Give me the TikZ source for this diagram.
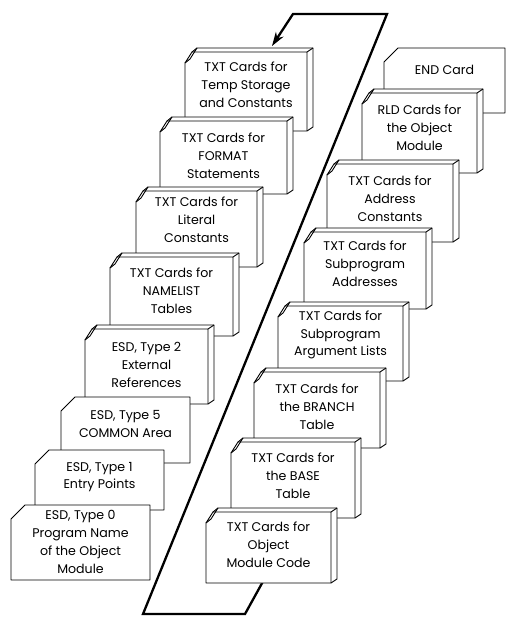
\documentclass[tikz,border=0pt]{standalone}
\usepackage{fontspec}
\setmainfont{Poppins}
\usetikzlibrary{arrows.meta}

\tikzset{
  cardline/.style={line width=0.9pt, line join=round},
  cardtext/.style={align=center, inner sep=0pt,
    font=\fontsize{12.6}{17.8}\selectfont},
  loopline/.style={line width=2.3pt, line join=miter,
    -{Stealth[length=14pt,width=9pt]}},
}

% A deck of cards: name, left x, back top y, front right x, front bottom y,
% text centre y, text
\newcommand{\deckcard}[7]{%
  \filldraw[cardline, fill=white]
    (#2,#5) -- (#2,{#3+15}) -- ({#2+5},{#3+11}) -- ({#2+12},#3)
    -- ({#4+6},#3) -- ({#4+6},{#5-4}) -- (#4,#5) -- cycle;
  \draw[cardline] (#2,{#3+15}) -- ({#2+7},{#3+4}) -- (#4,{#3+4}) -- (#4,#5);
  \draw[cardline] ({#2+7},{#3+4}) -- ({#2+12},#3);
  \draw[cardline] (#4,{#3+4}) -- ({#4+6},#3);
  \node[cardtext] (#1) at ({(#2+#4)/2},#6) {#7};
}

% A single card: name, left x, top y, right x, bottom y, text centre y, text
\newcommand{\flatcard}[7]{%
  \filldraw[cardline, fill=white]
    (#2,#5) -- (#2,{#3+14}) -- ({#2+14},#3) -- (#4,#3) -- (#4,#5) -- cycle;
  \node[cardtext] (#1) at ({(#2+#4)/2},#6) {#7};
}

\begin{document}
\begin{tikzpicture}[x=1pt, y=-1pt]
\useasboundingbox (0,0) rectangle (507,617);
\fill[white] (0,0) rectangle (507,617);

% return loop from the end of the deck back to the top
\coordinate (lp0) at (266,576);
\coordinate (lp1) at (245,614);
\coordinate (lp2) at (143,614);
\coordinate (lp3) at (387,14);
\coordinate (lp4) at (293,14);
\coordinate (lptip) at (272,46);
\draw[loopline] (lp0) -- (lp1) -- (lp2) -- (lp3) -- (lp4) -- (lptip);

% left part of the deck
\deckcard{tmp}{185}{48}{307}{131}{85}{TXT Cards for\\Temp Storage\\and Constants}
\deckcard{fmt}{160}{117}{287}{194}{156}{TXT Cards for\\FORMAT\\Statements}
\deckcard{lit}{136}{187}{257}{267}{220}{TXT Cards for\\Literal\\Constants}
\deckcard{nml}{110}{253}{233}{336}{291}{TXT Cards for\\NAMELIST\\Tables}
\deckcard{esdb}{85}{325}{208}{404}{365}{ESD, Type 2\\External\\References}
\flatcard{esdc}{61}{397}{190}{463}{424}{ESD, Type 5\\COMMON Area}
\flatcard{esdd}{35}{450}{164}{510}{477}{ESD, Type 1\\Entry Points}
\flatcard{esde}{11}{505}{150}{580}{542}{ESD, Type 0\\Program Name\\of the Object\\Module}

% right part of the deck
\flatcard{endc}{384}{48}{505}{113}{70}{END Card}
\deckcard{rld}{362}{89}{477}{173}{128}{RLD Cards for\\the Object\\Module}
\deckcard{adc}{327}{160}{453}{242}{199}{TXT Cards for\\Address\\Constants}
\deckcard{spa}{304}{228}{426}{309}{264}{TXT Cards for\\Subprogram\\Addresses}
\deckcard{arg}{278}{302}{403}{381}{335}{TXT Cards for\\Subprogram\\Argument Lists}
\deckcard{brt}{254}{368}{380}{448}{407}{TXT Cards for\\the BRANCH\\Table}
\deckcard{bst}{231}{438}{355}{518}{476}{TXT Cards for\\the BASE\\Table}
\deckcard{omc}{206}{508}{331}{583}{545}{TXT Cards for\\Object\\Module Code}
\end{tikzpicture}
\end{document}
